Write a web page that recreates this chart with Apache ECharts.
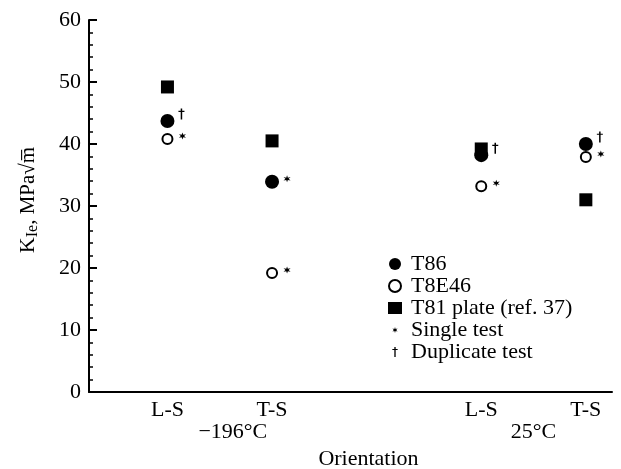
<!DOCTYPE html>
<html>
<head>
<meta charset="utf-8">
<script src="https://cdn.jsdelivr.net/npm/echarts@6/dist/echarts.min.js"></script>
<style>
  html, body { margin: 0; padding: 0; background: #fff; }
  #kie-chart { width: 621px; height: 469px; }
</style>
</head>
<body>
<div id="kie-chart"></div>
<script>
// orientation positions along the x axis and their labels
var orientLabels = ['L-S', 'T-S', 'L-S', 'T-S'];
var orientX = [1.5, 3.5, 7.5, 9.5];
var tempLabels = ['\u2212196\u00b0C', '25\u00b0C'];
var tempX = [2.75, 8.5];

// K_Ie values, MPa√m
var t86 = [43.7, 33.9, 38.2, 40.0];
var t8e46 = [40.8, 19.2, 33.2, 37.9];
var t81 = [49.2, 40.5, 39.2, 31.0];

// which tests were single (s) or duplicate (d)
var t86Tests = ['d', 's', 'd', 'd'];
var t8e46Tests = ['s', 's', 's', 's'];

var serif = 'Liberation Serif';
var dagger = 'path://M4,0 L6,0 L6,3 L9,3 L9,4.6 L6,4.6 L6,15 L4,15 L4,4.6 L1,4.6 L1,3 L4,3 Z';
var star = 'path://M5,0 L6,3.3 L9.3,2.5 L7,5 L9.3,7.5 L6,6.7 L5,10 L4,6.7 L0.7,7.5 L3,5 L0.7,2.5 L4,3.3 Z';
// same glyphs with empty room round them, so the legend draws them small
var daggerIcon = 'path://M-5.5,-1.5 M15.5,16.5 M4,0 L6,0 L6,3 L9,3 L9,4.6 L6,4.6 L6,15 L4,15 L4,4.6 L1,4.6 L1,3 L4,3 Z';
var starIcon = 'path://M-6.7,-5 M16.7,15 M5,0 L6,3.3 L9.3,2.5 L7,5 L9.3,7.5 L6,6.7 L5,10 L4,6.7 L0.7,7.5 L3,5 L0.7,2.5 L4,3.3 Z';

function pts(vals) {
    return vals.map(function (v, i) { return [orientX[i], v]; });
}
function pick(vals, tests, kind) {
    var out = [];
    vals.forEach(function (v, i) {
        if (tests[i] === kind) out.push([orientX[i], v]);
    });
    return out;
}

var myChart = echarts.init(document.getElementById('kie-chart'));

var option = {
    animation: false,
    backgroundColor: '#fff',
    textStyle: { fontFamily: serif, color: '#000' },
    grid: { left: 89, right: 9, top: 20, bottom: 77, outerBoundsMode: 'none', containLabel: false },
    legend: {
        orient: 'vertical',
        left: 383,
        top: 248,
        itemGap: 0,
        itemWidth: 14,
        itemHeight: 12,
        textStyle: { fontFamily: serif, fontSize: 22, lineHeight: 22, color: '#000', padding: [0, 0, 0, 4] },
        data: [
            { name: 'T86' },
            { name: 'T8E46' },
            { name: 'T81 plate (ref. 37)' },
            { name: 'Single test', icon: starIcon },
            { name: 'Duplicate test', icon: daggerIcon }
        ]
    },
    xAxis: [
        {
            type: 'value',
            min: 0,
            max: 10,
            interval: 0.25,
            splitLine: { show: false },
            axisTick: { show: false },
            axisLine: { onZero: false, lineStyle: { color: '#000', width: 2 } },
            axisLabel: {
                margin: 7,
                fontSize: 22,
                color: '#000',
                fontFamily: serif,
                formatter: function (v) {
                    var i = orientX.indexOf(v);
                    return i >= 0 ? orientLabels[i] : '';
                }
            }
        },
        {
            type: 'value',
            position: 'bottom',
            offset: 22,
            min: 0,
            max: 10,
            interval: 0.25,
            splitLine: { show: false },
            axisTick: { show: false },
            axisLine: { show: false },
            axisLabel: {
                margin: 7,
                fontSize: 22,
                color: '#000',
                fontFamily: serif,
                formatter: function (v) {
                    var i = tempX.indexOf(v);
                    return i >= 0 ? tempLabels[i] : '';
                }
            },
            name: 'Orientation',
            nameLocation: 'middle',
            nameGap: 25,
            nameTextStyle: { fontSize: 22, color: '#000', fontFamily: serif, padding: [0, 0, 0, 36] }
        }
    ],
    yAxis: {
        type: 'value',
        min: 0,
        max: 60,
        interval: 10,
        splitLine: { show: false },
        axisLine: { lineStyle: { color: '#000', width: 2 } },
        axisTick: { show: true, inside: true, length: 8, lineStyle: { color: '#000', width: 2 } },
        minorTick: { show: true, splitNumber: 5, length: 4, lineStyle: { color: '#000', width: 1.5 } },
        axisLabel: { fontSize: 22, color: '#000', fontFamily: serif, margin: 8 },
        name: '{k|K}{sub|Ie}{n|, MPa\u221am\u0305}',
        nameLocation: 'middle',
        nameRotate: 90,
        nameGap: 48,
        nameTextStyle: {
            padding: [0, 0, 0, 12],
            rich: {
                k: { fontSize: 22, fontFamily: serif, color: '#000' },
                sub: { fontSize: 16, fontFamily: serif, color: '#000', verticalAlign: 'bottom', padding: [9, 0, 0, 0] },
                n: { fontSize: 21, fontFamily: serif, color: '#000' }
            }
        }
    },
    series: [
        {
            name: 'T81 plate (ref. 37)',
            type: 'scatter',
            symbol: 'rect',
            symbolSize: 13,
            itemStyle: { color: '#000', opacity: 1 },
            data: pts(t81)
        },
        {
            name: 'T86',
            type: 'scatter',
            symbol: 'circle',
            symbolSize: 14,
            itemStyle: { color: '#000', opacity: 1 },
            data: pts(t86)
        },
        {
            name: 'T8E46',
            type: 'scatter',
            symbol: 'emptyCircle',
            symbolSize: 10,
            itemStyle: { color: '#000', borderColor: '#000', borderWidth: 3, opacity: 1 },
            data: pts(t8e46)
        },
        {
            name: 'Single test',
            type: 'scatter',
            symbol: star,
            symbolSize: 7,
            symbolOffset: [15, -3],
            itemStyle: { color: '#000', opacity: 1 },
            data: pick(t86, t86Tests, 's').concat(pick(t8e46, t8e46Tests, 's'))
        },
        {
            name: 'Duplicate test',
            type: 'scatter',
            symbol: dagger,
            symbolSize: [6, 11],
            symbolOffset: [14, -7],
            itemStyle: { color: '#000', opacity: 1 },
            data: pick(t86, t86Tests, 'd').concat(pick(t8e46, t8e46Tests, 'd'))
        }
    ]
};

myChart.setOption(option);
</script>
</body>
</html>
